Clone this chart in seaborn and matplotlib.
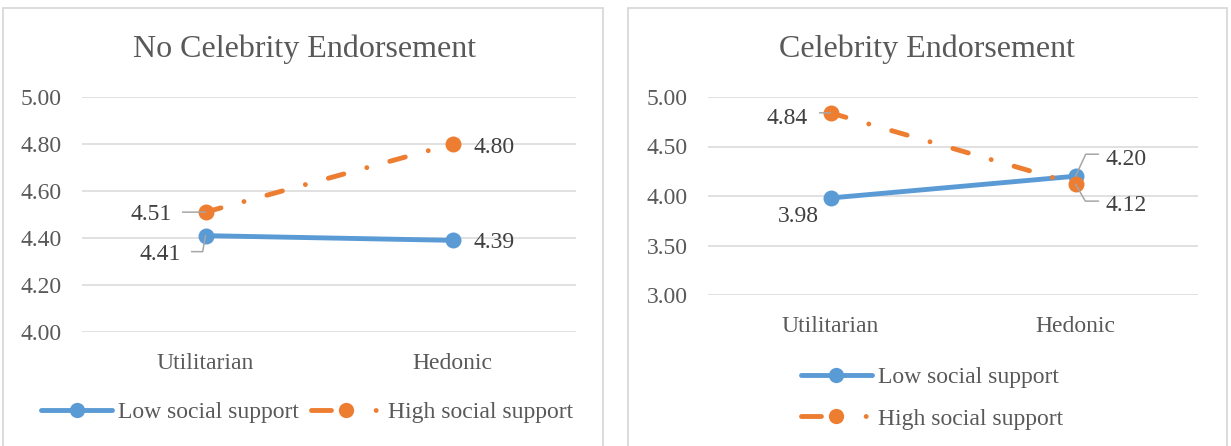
import numpy as np
import pandas as pd
import matplotlib
matplotlib.use("Agg")
import matplotlib.pyplot as plt
from matplotlib.lines import Line2D
from matplotlib.patches import Rectangle
import seaborn as sns

# ---------------- data ----------------
categories = ["Utilitarian", "Hedonic"]
series_names = ["Low social support", "High social support"]
no_celeb_low = [4.41, 4.39]
no_celeb_high = [4.51, 4.80]
celeb_low = [3.98, 4.20]
celeb_high = [4.84, 4.12]
titles = ["No Celebrity Endorsement", "Celebrity Endorsement"]
yticks_left = [4.00, 4.20, 4.40, 4.60, 4.80, 5.00]
yticks_right = [3.00, 3.50, 4.00, 4.50, 5.00]

# ---------------- style ----------------
sns.set_theme(style="white")
plt.rcParams["font.family"] = ["Liberation Serif", "DejaVu Serif"]

BLUE = "#5B9BD5"
ORANGE = "#ED7D31"
TXT = "#595959"
LBL = "#404040"
GRID = "#D9D9D9"
LEAD = "#A6A6A6"
FS = 17
LW = 3.5
MS = 11.5
DASH = (3.3, 4.9, 0.01, 4.9)
LEG_DASH = (4.1, 9.2, 0.01, 6.0)

W, H = 1231, 446
fig = plt.figure(figsize=(W / 100, H / 100), dpi=100)
fig.patch.set_facecolor("white")

# panel frames
for x0, x1 in [(3, 603), (628, 1227)]:
    fig.patches.append(Rectangle((x0 / W, -0.05), (x1 - x0) / W, 1.05 - 8 / H,
                                 transform=fig.transFigure, fill=False,
                                 ec=GRID, lw=1.3, zorder=0))

ax1 = fig.add_axes([82 / W, 1 - 332 / H, 494 / W, 235 / H])
ax2 = fig.add_axes([708 / W, 1 - 295 / H, 490 / W, 198 / H])


def make_df(low, high):
    rows = []
    for name, vals in zip(series_names, [low, high]):
        for c, v in zip(categories, vals):
            rows.append({"category": c, "value": v, "series": name})
    return pd.DataFrame(rows)


def draw(ax, low, high, yticks):
    df = make_df(low, high)
    sns.lineplot(data=df, x="category", y="value", hue="series", style="series",
                 hue_order=series_names, style_order=series_names,
                 palette={series_names[0]: BLUE, series_names[1]: ORANGE},
                 markers={series_names[0]: "o", series_names[1]: "o"},
                 dashes={series_names[0]: "", series_names[1]: DASH},
                 linewidth=LW, markersize=MS, markeredgewidth=0,
                 dash_capstyle="round",
                 sort=False, errorbar=None, legend=False, ax=ax)
    ax.set_xlim(-0.5, 1.5)
    ax.set_ylim(yticks[0], yticks[-1])
    ax.set_yticks(yticks)
    ax.set_yticklabels([f"{t:.2f}" for t in yticks])
    ax.set_xticks(range(len(categories)))
    ax.set_xticklabels(categories)
    ax.set_xlabel("")
    ax.set_ylabel("")
    for s in ax.spines.values():
        s.set_visible(False)
    ax.grid(True, axis="y", color=GRID, lw=1.1)
    ax.grid(False, axis="x")
    ax.set_axisbelow(True)
    ax.tick_params(axis="y", length=0, pad=14.5, labelsize=FS, labelcolor=TXT)
    ax.tick_params(axis="x", length=0, pad=15, labelsize=FS, labelcolor=TXT)
    ax.patch.set_alpha(0)


draw(ax1, no_celeb_low, no_celeb_high, yticks_left)
draw(ax2, celeb_low, celeb_high, yticks_right)

# titles
fig.text(305 / W, 1 - 57 / H, titles[0], ha="center", va="baseline",
         fontsize=23, color=TXT)
fig.text(927 / W, 1 - 57 / H, titles[1], ha="center", va="baseline",
         fontsize=23, color=TXT)

PX = 72 / 100  # pixels -> points


def label(ax, xi, val, dx, dy, ha, leader=None, conn=None, shrinkB=0):
    ax.annotate(f"{val:.2f}", xy=(xi, val), xytext=(dx * PX, dy * PX),
                textcoords="offset points", ha=ha, va="center_baseline",
                fontsize=FS, color=LBL, zorder=6)
    if leader is not None:
        ax.annotate("", xy=(xi, val), xytext=(leader[0] * PX, leader[1] * PX),
                    textcoords="offset points",
                    arrowprops=dict(arrowstyle="-", color=LEAD, lw=1.1,
                                    shrinkA=0, shrinkB=shrinkB,
                                    connectionstyle=conn or "arc3"),
                    zorder=5)


# left panel labels
label(ax1, 0, no_celeb_low[0], -25, -16, "right", leader=(-14, -16),
      conn="angle,angleA=0,angleB=80,rad=0")
label(ax1, 0, no_celeb_high[0], -34, 0, "right", leader=(-23, 0))
label(ax1, 1, no_celeb_high[1], 21, -1, "left")
label(ax1, 1, no_celeb_low[1], 21, 0, "left")

# right panel labels
label(ax2, 0, celeb_high[0], -23, -3, "right", leader=(-11, 0))
label(ax2, 0, celeb_low[0], -12, -16, "right")
label(ax2, 1, celeb_low[1], 30, 19, "left", leader=(23, 22),
      conn="angle,angleA=0,angleB=65,rad=0")
label(ax2, 1, celeb_high[1], 30, -19, "left", leader=(23, -17),
      conn="angle,angleA=0,angleB=-60,rad=0")

# legends
handles = [
    Line2D([], [], color=BLUE, lw=LW, marker="o", markersize=MS - 0.5, markeredgewidth=0,
           solid_capstyle="round"),
    Line2D([], [], color=ORANGE, lw=LW, marker="o", markersize=MS - 0.5, markeredgewidth=0,
           dashes=LEG_DASH, dash_capstyle="round"),
]
leg1 = ax1.legend(handles, series_names, ncol=2, loc="center",
                  bbox_to_anchor=(307 / W, 1 - 412 / H), bbox_transform=fig.transFigure,
                  frameon=False, handlelength=3.0, handletextpad=0.25,
                  columnspacing=0.5, fontsize=FS, labelcolor=TXT, borderpad=0)
leg2 = ax2.legend(handles, series_names, ncol=1, loc="center",
                  bbox_to_anchor=(932 / W, 1 - 398 / H), bbox_transform=fig.transFigure,
                  frameon=False, handlelength=3.0, handletextpad=0.25,
                  labelspacing=0.85, fontsize=FS, labelcolor=TXT, borderpad=0)

fig.savefig("out.png", dpi=100, facecolor="white")
